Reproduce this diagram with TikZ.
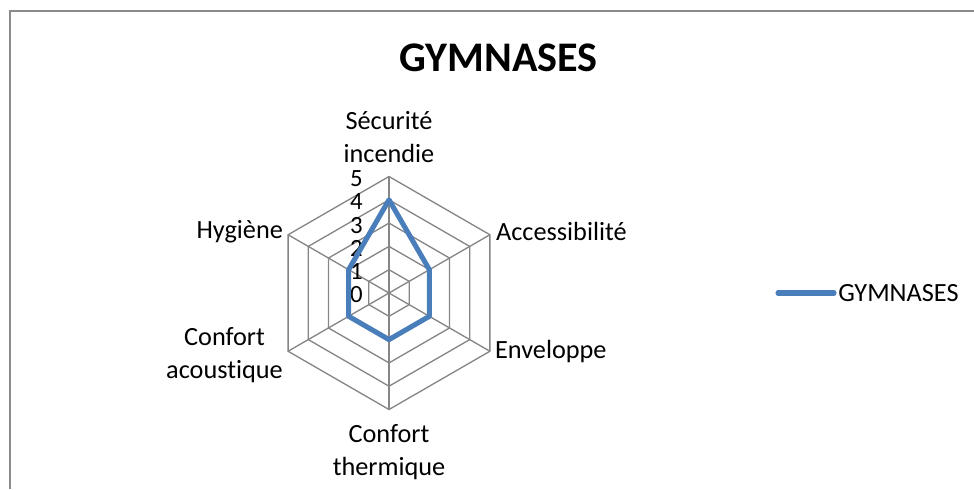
\documentclass[tikz,border=0pt]{standalone}
\usepackage{fontspec}
\setmainfont{Carlito}[Ligatures=NoCommon]
\usetikzlibrary{positioning}
\definecolor{seriesBlue}{HTML}{4A7EBB}
\definecolor{gridGray}{HTML}{868686}
\definecolor{frameGray}{HTML}{8A8A8A}
\begin{document}
\begin{tikzpicture}[x=0.75pt, y=-0.75pt,
    axislabel/.style={font=\fontsize{19.7}{24.75}\selectfont, align=center, inner sep=0pt},
    ticklabel/.style={font=\fontsize{18.6}{18}\selectfont, anchor=east, inner sep=0pt},
    gridline/.style={gridGray, line width=1pt},
    seriesline/.style={seriesBlue, line width=3.8pt, line join=round, line cap=round}]
  \useasboundingbox (0,0) rectangle (974,489);
  \def\unit{23.3}   % one step of the scale, px
  % chart frame (cut off right and bottom)
  \draw[frameGray, line width=1.5pt] (974,11) -- (10,11) -- (10,489);
  \node[font=\fontsize{31.6}{36}\selectfont\bfseries, inner sep=0pt] (title) at (498.5,58) {GYMNASES};
  \begin{scope}[shift={(389,293)}, y=0.75pt]
    % rings 1 .. 5
    \foreach \r in {1,...,5}
      \draw[gridline] (90:\r*\unit) -- (30:\r*\unit) -- (-30:\r*\unit) -- (-90:\r*\unit) -- (-150:\r*\unit) -- (150:\r*\unit) -- cycle;
    % spokes, tips named
    \coordinate (centre) at (0,0);
    \foreach \name/\ang in {secu/90, acces/30, env/-30, therm/-90, acous/-150, hyg/150}
      \draw[gridline] (centre) -- (\ang:5*\unit) coordinate (\name);
    % scale numbers
    \foreach \r in {0,...,5}
      \node[ticklabel] (tick\r) at (-26,\r*\unit-2) {\r};
    % the series
    \foreach \name/\ang/\val in {vsecu/90/4, vacces/30/2, venv/-30/2, vtherm/-90/2, vacous/-150/2, vhyg/150/2}
      \coordinate (\name) at (\ang:\val*\unit);
    \draw[seriesline] (vsecu) -- (vacces) -- (venv) -- (vtherm) -- (vacous) -- (vhyg) -- cycle;
  \end{scope}
  % axis names
  \node[axislabel, anchor=south, above=10.5pt of secu] (secuLbl) {Sécurité\\incendie};
  \node[axislabel, anchor=west, right=4.5pt of acces, yshift=2.25pt] (accesLbl) {Accessibilité};
  \node[axislabel, anchor=west, right=3.75pt of env] (envLbl) {Enveloppe};
  \node[axislabel, anchor=north, below=11.25pt of therm] (thermLbl) {Confort\\thermique};
  \node[axislabel, anchor=east, left=3.75pt of acous, yshift=-3pt] (acousLbl) {Confort\\acoustique};
  \node[axislabel, anchor=east, left=3.75pt of hyg, yshift=2.25pt] (hygLbl) {Hygiène};
  % legend
  \coordinate (legA) at (778,293);
  \coordinate (legB) at (834,293);
  \draw[seriesline] (legA) -- (legB);
  \node[axislabel, anchor=west, right=3pt of legB] (legLbl) {GYMNASES};
\end{tikzpicture}
\end{document}
